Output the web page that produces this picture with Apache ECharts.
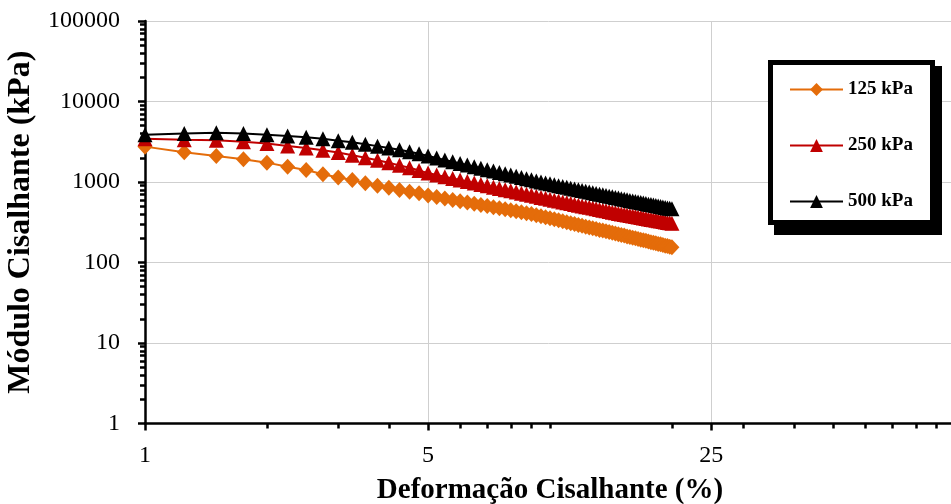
<!DOCTYPE html>
<html>
<head>
<meta charset="utf-8">
<script src="https://cdn.jsdelivr.net/npm/echarts@6/dist/echarts.min.js"></script>
<style>html,body{margin:0;padding:0;background:#fff}#c{width:951px;height:504px}</style>
</head>
<body>
<div id="c"></div>
<script>
// Shear strain (%)
const strain = [1,1.25,1.5,1.75,2,2.25,2.5,2.75,3,3.25,3.5,3.75,4,4.25,4.5,4.75,5,
  5.25,5.5,5.75,6,6.25,6.5,6.75,7,7.25,7.5,7.75,8,8.25,8.5,8.75,9,9.25,9.5,9.75,10,
  10.25,10.5,10.75,11,11.25,11.5,11.75,12,12.25,12.5,12.75,13,13.25,13.5,13.75,14,14.25,14.5,14.75,15,
  15.25,15.5,15.75,16,16.25,16.5,16.75,17,17.25,17.5,17.75,18,18.25,18.5,18.75,19,19.25,19.5,19.75,20];

// Shear modulus (kPa)
const g125 = [2750,2340,2100,1920,1740,1550,1410,1250,1135,1060,965,900,850,795,758,724,680,
  651,624,599,577,556,537,519,502,486,472,458,445,433,421,410,400,
  387,376,364,354,344,334,325,316,308,300,293,286,279,272,266,260,254,249,244,239,234,229,224,220,
  216,211,207,203,200,196,192,189,186,182,179,176,173,170,168,165,162,160,157,155];
const g250 = [3450,3350,3300,3170,3000,2800,2640,2480,2320,2150,2000,1860,1730,1610,1500,1390,1290,
  1224,1164,1109,1059,1014,971,933,897,863,832,803,776,751,727,704,683,663,644,627,610,
  595,580,566,552,540,527,516,505,494,484,474,464,455,446,438,430,422,414,407,400,
  394,388,383,377,372,367,362,357,352,348,343,339,335,331,327,323,319,315,312,308];
const g500 = [3850,4000,4100,4000,3850,3720,3590,3450,3260,3110,2940,2790,2640,2510,2380,2240,2100,
  1985,1881,1787,1701,1622,1551,1484,1423,1367,1314,1265,1220,1177,1137,1100,1064,1031,1000,
  973,948,924,901,879,858,838,819,801,783,767,751,735,720,706,692,679,667,654,643,631,620,
  610,600,591,581,572,564,555,547,539,531,524,517,510,503,496,490,483,477,471,465];

const seriesNames = ['125 kPa','250 kPa','500 kPa'];
const xMinorTicks = [2,3,4,6,7,8,9,10,20,30,40,50,60,70,80,90];
const yMinorTicks = [2,3,4,5,6,7,8,9,20,30,40,50,60,70,80,90,200,300,400,500,600,700,800,900,
  2000,3000,4000,5000,6000,7000,8000,9000,20000,30000,40000,50000,60000,70000,80000,90000];

const FONT = "'Liberation Serif','Times New Roman',serif";
const pair = arr => strain.map((s, i) => [s, arr[i]]);

const chart = echarts.init(document.getElementById('c'), null, {renderer: 'canvas'});
chart.setOption({
  animation: false,
  backgroundColor: '#fff',
  grid: {left: 145, right: -4, top: 21, bottom: 80.5, containLabel: false, outerBoundsMode: 'none'},
  legend: {
    orient: 'vertical', left: 789, top: 80, padding: 0,
    itemWidth: 53, itemHeight: 16, itemGap: 37, z: 10,
    data: seriesNames,
    textStyle: {fontFamily: FONT, fontWeight: 'bold', fontSize: 19, color: '#000'}
  },
  graphic: [
    {type: 'rect', z: 5, shape: {x: 774, y: 66, width: 168, height: 169}, style: {fill: '#000'}},
    {type: 'rect', z: 6, shape: {x: 770.5, y: 62.5, width: 162, height: 160}, style: {fill: '#fff', stroke: '#000', lineWidth: 5}}
  ],
  xAxis: [
    {
      type: 'log', logBase: 5, min: 1, max: 100, position: 'bottom',
      name: 'Deformação Cisalhante (%)', nameLocation: 'middle', nameGap: 53,
      nameTextStyle: {fontFamily: FONT, fontWeight: 'bold', fontSize: 29, color: '#000'},
      axisLine: {show: true, onZero: false, lineStyle: {color: '#000', width: 2.5}},
      axisTick: {show: true, inside: false, length: 7, lineStyle: {color: '#000', width: 2.5}},
      axisLabel: {show: true, showMaxLabel: false, margin: 20, color: '#000', fontSize: 24, fontFamily: FONT,
        formatter: v => String(Math.round(v))},
      splitLine: {show: true, lineStyle: {color: '#cfcfcf', width: 1}}
    },
    {
      type: 'log', logBase: 10, min: 1, max: 100, position: 'bottom',
      axisLine: {show: false}, axisLabel: {show: false}, splitLine: {show: false},
      axisTick: {show: true, inside: false, length: 5, customValues: xMinorTicks, lineStyle: {color: '#000', width: 2.5}}
    }
  ],
  yAxis: [
    {
      type: 'log', logBase: 10, min: 1, max: 100000, position: 'left',
      name: 'Módulo Cisalhante (kPa)', nameLocation: 'middle', nameGap: 103,
      nameTextStyle: {fontFamily: FONT, fontWeight: 'bold', fontSize: 32, color: '#000'},
      axisLine: {show: true, onZero: false, lineStyle: {color: '#000', width: 2.5}},
      axisTick: {show: true, inside: false, length: 7, lineStyle: {color: '#000', width: 2.5}},
      axisLabel: {show: true, margin: 25, color: '#000', fontSize: 24, fontFamily: FONT,
        formatter: v => String(Math.round(v))},
      splitLine: {show: true, lineStyle: {color: '#cfcfcf', width: 1}}
    },
    {
      type: 'log', logBase: 10, min: 1, max: 100000, position: 'left',
      axisLine: {show: false}, axisLabel: {show: false}, splitLine: {show: false},
      axisTick: {show: true, inside: false, length: 5, customValues: yMinorTicks, lineStyle: {color: '#000', width: 2.5}}
    }
  ],
  series: [
    {name: seriesNames[0], type: 'line', data: pair(g125), symbol: 'diamond', symbolSize: [15, 16], showAllSymbol: true,
      lineStyle: {color: '#E46C0A', width: 2}, itemStyle: {color: '#E46C0A'}},
    {name: seriesNames[1], type: 'line', data: pair(g250), symbol: 'triangle', symbolSize: [15, 15], showAllSymbol: true,
      lineStyle: {color: '#C00000', width: 2}, itemStyle: {color: '#C00000'}},
    {name: seriesNames[2], type: 'line', data: pair(g500), symbol: 'triangle', symbolSize: [15, 15], showAllSymbol: true,
      lineStyle: {color: '#000000', width: 2}, itemStyle: {color: '#000000'}}
  ]
});
</script>
</body>
</html>
